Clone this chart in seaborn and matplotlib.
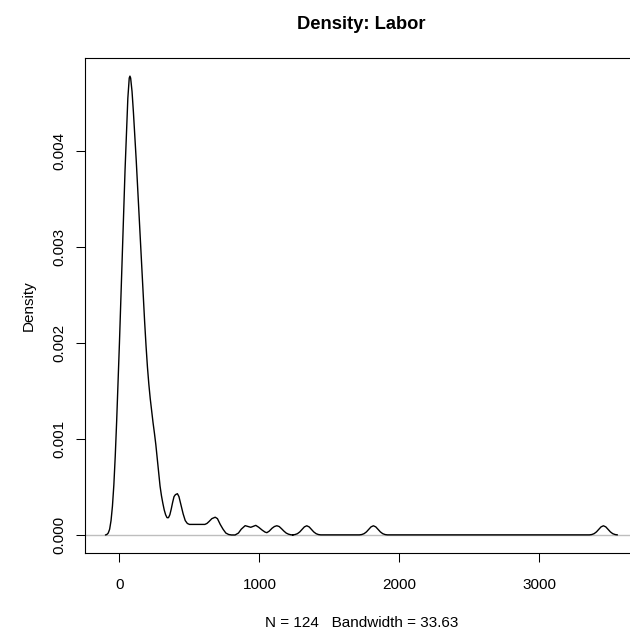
import matplotlib
matplotlib.use("Agg")
import matplotlib.pyplot as plt
import seaborn as sns
import pandas as pd

# Density curve (x = Labor, y = density)
labor_x = [
    -100, -90, -80, -70, -60, -50, -40, -30, -20, -10, 0, 10, 20, 30, 40, 50, 60, 70, 75, 80,
    90, 100, 110, 120, 130, 140, 150, 160, 170, 180, 190, 200, 210, 220, 230, 240, 250, 260,
    270, 280, 290, 300, 310, 320, 330, 340, 350, 360, 370, 380, 390, 400, 414, 425, 440, 455,
    470, 485, 500, 530, 560, 590, 610, 625, 640, 660, 684, 700, 720, 740, 760, 780, 800, 826,
    850, 870, 898, 915, 938, 955, 974, 995, 1020, 1040, 1053, 1070, 1090, 1107, 1124, 1141,
    1158, 1175, 1191, 1208, 1225, 1240,
    1238, 1254, 1271, 1288, 1304, 1321, 1338, 1355, 1372, 1388, 1405, 1422, 1438,
    1714, 1730, 1747, 1764, 1780, 1797, 1814, 1831, 1848, 1864, 1881, 1898, 1914,
    3357, 3373, 3390, 3407, 3423, 3440, 3457, 3474, 3491, 3507, 3524, 3541, 3557,
]
density_y = [
    0.0, 0.000005, 0.00002, 0.00006, 0.00015, 0.00030, 0.00052, 0.00082, 0.00118, 0.00158,
    0.00200, 0.00245, 0.00290, 0.00335, 0.00380, 0.00418, 0.00455, 0.00476, 0.00478, 0.00476,
    0.00462, 0.00440, 0.00415, 0.00390, 0.00362, 0.00333, 0.00305, 0.00277, 0.00249, 0.00222,
    0.00197, 0.00175, 0.00157, 0.00142, 0.00129, 0.00117, 0.00106, 0.00094, 0.00080, 0.00065,
    0.00051, 0.00041, 0.00033, 0.00026, 0.00021, 0.00018, 0.00018, 0.00021, 0.00027, 0.00034,
    0.00040, 0.00042, 0.00043, 0.00040, 0.00031, 0.00022, 0.00015, 0.00012, 0.00011, 0.00011,
    0.00011, 0.00011, 0.00011, 0.00012, 0.00014, 0.00017, 0.000185, 0.00017, 0.00011, 0.00006,
    0.00002, 0.000005, 0.0, 0.0, 0.00002, 0.00006, 0.000097, 0.00009, 0.00008, 0.00009,
    0.00010, 0.00008, 0.00005, 0.00003, 0.000024, 0.00004, 0.00007, 0.000088, 0.000096, 0.000088,
    0.000065, 0.00004, 0.00002, 0.000008, 0.000002, 0.0,
    0.0000011, 0.0000042, 0.0000132, 0.0000317, 0.0000574, 0.0000842, 0.0000957, 0.0000842,
    0.0000574, 0.0000317, 0.0000132, 0.0000042, 0.0000011,
    0.0000011, 0.0000042, 0.0000132, 0.0000317, 0.0000574, 0.0000842, 0.0000957, 0.0000842,
    0.0000574, 0.0000317, 0.0000132, 0.0000042, 0.0000011,
    0.0000011, 0.0000042, 0.0000132, 0.0000317, 0.0000574, 0.0000842, 0.0000957, 0.0000842,
    0.0000574, 0.0000317, 0.0000132, 0.0000042, 0.0000011,
]
x_ticks = [0, 1000, 2000, 3000]
y_ticks = [0.000, 0.001, 0.002, 0.003, 0.004]
title = "Density: Labor"
x_label = "N = 124   Bandwidth = 33.63"
y_label = "Density"

sns.set_style("ticks")
plt.rcParams["font.family"] = ["Liberation Sans", "DejaVu Sans"]
plt.rcParams["text.color"] = "black"
plt.rcParams["axes.labelcolor"] = "black"

df = pd.DataFrame({"x": labor_x, "y": density_y})

fig = plt.figure(figsize=(6.30, 6.33), dpi=100)
ax = fig.add_axes([85 / 630, (633 - 553.4) / 633, 553 / 630, (553.4 - 57.7) / 633])

ax.axhline(0, color="#BEBEBE", linewidth=1.0, zorder=1)
sns.lineplot(data=df, x="x", y="y", sort=False, estimator=None, color="black",
             linewidth=1.0, ax=ax, zorder=2)

ax.set_xlim(-246, 3704)
ax.set_ylim(-0.000192, 0.004972)
ax.set_xticks(x_ticks)
ax.set_xticklabels([str(t) for t in x_ticks])
ax.set_yticks(y_ticks)
ax.set_yticklabels([f"{t:.3f}" for t in y_ticks], rotation=90, va="center")

for s in ax.spines.values():
    s.set_visible(True)
    s.set_linewidth(0.8)
    s.set_color("black")

ax.tick_params(axis="both", direction="out", length=6.7, width=0.75, color="black",
               labelsize=11, labelcolor="black")
ax.tick_params(axis="x", pad=11)
ax.tick_params(axis="y", pad=7)

ax.set_title(title, fontsize=13.2, fontweight="bold", pad=21, color="black")
ax.set_xlabel(x_label, fontsize=11, labelpad=17.5, color="black")
ax.set_ylabel(y_label, fontsize=11, labelpad=12, color="black")

fig.savefig("out.png", dpi=100, facecolor="white")
